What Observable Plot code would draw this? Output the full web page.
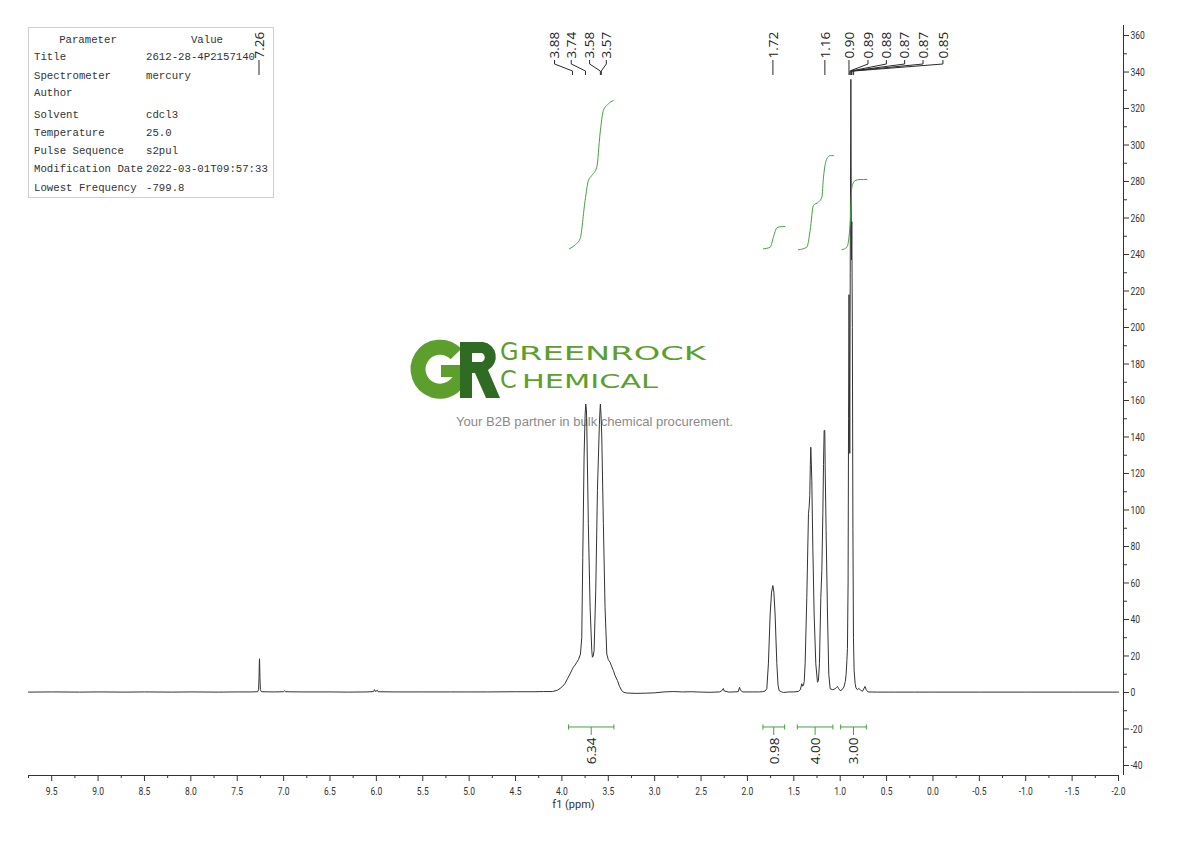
<!DOCTYPE html>
<html>
<head>
<meta charset="utf-8">
<script src="https://cdn.jsdelivr.net/npm/d3@7"></script>
<script src="https://cdn.jsdelivr.net/npm/@observablehq/plot@0.6"></script>
<style>
  html, body { margin: 0; padding: 0; background: #fff; }
  #wrap { position: relative; width: 1190px; height: 841px; overflow: hidden; background: #fff; }
  #bg { position: absolute; left: 0; top: 0; width: 1190px; height: 841px; z-index: 0; }
  #chart { position: absolute; left: 0; top: 0; z-index: 1; }
  #info { position: absolute; left: 28px; top: 27px; width: 244px; height: 169px;
          border: 1px solid #cfcfcf; background: #fff; }
  .cell { position: absolute; height: 14px; line-height: 14px; white-space: nowrap;
          font-family: "Liberation Mono", "DejaVu Sans Mono", monospace; font-size: 10.7px; color: #333; }
</style>
</head>
<body>
<div id="wrap">
  <div id="bg">
    <div id="info"></div>
    <svg id="logo" width="1190" height="841" style="position:absolute;left:0;top:0">
      <path d="M456,354 A22,22 0 1 0 462,371" fill="none" stroke="#5c9f2d" stroke-width="15"/>
      <rect x="441" y="365" width="26" height="12" fill="#5c9f2d"/>
      <path fill-rule="evenodd" fill="#2f6b22"
            d="M460,342 H483 A15,15 0 0 1 488,370 L500,398 H486 L475,373 H472 V398 H460 Z M472,353 H482 A5,5 0 0 1 482,362 H472 Z"/>
      <text x="500" y="360" fill="#5c9f2d" font-family="DejaVu Sans" font-size="24">G</text>
      <text x="519" y="360" fill="#5c9f2d" font-family="DejaVu Sans" font-size="19" textLength="187" lengthAdjust="spacingAndGlyphs">REENROCK</text>
      <text x="500" y="388" fill="#5c9f2d" font-family="DejaVu Sans" font-size="24">C</text>
      <text x="522" y="388" fill="#5c9f2d" font-family="DejaVu Sans" font-size="19.5" textLength="136" lengthAdjust="spacingAndGlyphs">HEMICAL</text>
      <text x="456" y="425.5" fill="#8a8a8a" font-family="Liberation Sans, Arial, sans-serif" font-size="12.6" textLength="277" lengthAdjust="spacingAndGlyphs">Your B2B partner in bulk chemical procurement.</text>
    </svg>
  </div>
  <div id="chart"></div>
</div>
<script>
// ---------------- data ----------------
const specPpm = [
  9.75, 9.5, 9.2, 9.0, 8.7, 8.5, 8.2, 8.0, 7.7, 7.5, 7.35, 7.28, 7.27, 7.265, 7.262, 7.26, 7.258, 7.255, 7.25, 7.24,
  7.1, 7.0, 6.99, 6.98, 6.8, 6.5, 6.3, 6.1, 6.03, 6.02, 6.01, 5.99, 5.98, 5.8, 5.5, 5.2, 5.0, 4.8, 4.5, 4.3, 4.2, 4.1,
  4.05, 4.02, 3.99, 3.966, 3.94, 3.912, 3.89, 3.876, 3.858, 3.84, 3.822, 3.80, 3.786, 3.775, 3.761, 3.75, 3.743, 3.736,
  3.732, 3.715, 3.696, 3.678, 3.671, 3.662, 3.653, 3.635, 3.617, 3.596, 3.588, 3.585, 3.578, 3.570, 3.553, 3.535, 3.516,
  3.50, 3.481, 3.465, 3.445, 3.425, 3.402, 3.38, 3.355, 3.33, 3.3, 3.2, 3.1, 3.0, 2.9, 2.8, 2.7, 2.6, 2.5, 2.4, 2.3,
  2.27, 2.26, 2.25, 2.2, 2.1, 2.085, 2.075, 2.05, 1.95, 1.88, 1.84, 1.81, 1.791, 1.774, 1.755, 1.74, 1.726, 1.715,
  1.702, 1.683, 1.67, 1.658, 1.63, 1.612, 1.55, 1.5, 1.45, 1.43, 1.414, 1.405, 1.396, 1.388, 1.378, 1.36, 1.342, 1.335,
  1.328, 1.322, 1.317, 1.312, 1.306, 1.295, 1.281, 1.263, 1.245, 1.235, 1.224, 1.209, 1.198, 1.187, 1.180, 1.173, 1.166,
  1.162, 1.152, 1.137, 1.123, 1.108, 1.08, 1.055, 1.04, 1.03, 1.015, 1.001, 0.98, 0.96, 0.945, 0.936, 0.928, 0.922,
  0.915, 0.910, 0.905, 0.900, 0.897, 0.892, 0.885, 0.879, 0.875, 0.869, 0.863, 0.857, 0.85, 0.839, 0.83, 0.815, 0.80,
  0.785, 0.76, 0.732, 0.72, 0.70, 0.6, 0.4, 0.2, 0.0, -0.5, -1.0, -1.5, -2.0
];
const specVal = [
  0.2, 0.3, 0.2, 0.3, 0.2, 0.3, 0.2, 0.3, 0.2, 0.3, 0.3, 0.4, 1.5, 8, 16, 18.5, 16, 8, 1.5, 0.4,
  0.3, 0.4, 1.0, 0.4, 0.3, 0.3, 0.2, 0.3, 0.5, 1.6, 0.5, 1.2, 0.4, 0.3, 0.3, 0.3, 0.3, 0.3, 0.4, 0.4, 0.5, 0.5,
  1.2, 2.2, 3.5, 5, 7.5, 10.2, 12.5, 13.9, 15, 16.5, 18, 21, 30, 74, 129, 152, 158, 155,
  147, 92.5, 46.7, 23, 19.3, 20, 23, 56, 110.7, 147, 156, 158, 152, 140, 92.5, 46.7, 21,
  18, 16.6, 14.5, 12, 9, 6.6, 3.5, 1, 0, -0.3, -0.5, -0.4, -0.2, 0.3, 0.5, 0.3, 0.4, 0.2, 0.1, 0.3,
  1.2, 2.2, 0.8, 0.2, 0.4, 2.8, 1.2, 0.3, 0.3, 0.3, 0.4, 0.8, 2, 15.7, 43, 55, 58.6, 55,
  43, 15.7, 4, 1, 0.3, 0, 0.3, 0.3, 0.6, 1.5, 4.8, 3.5, 3.8, 6, 15.7, 52, 98, 101.5,
  108, 125, 134.4, 127, 116, 79.6, 43, 15.7, 5.6, 6.5, 15.7, 52, 66.8, 98, 125, 143.6, 143.6,
  123, 88.8, 43, 10, 2, 1.5, 2, 2.8, 3.3, 2, 1, 1.5, 3, 6, 10, 17.5, 24,
  60, 150, 218, 170, 131, 230, 336, 237, 258, 200, 90, 30, 12, 5, 2.5, 1.5, 2.2,
  1.5, 0.6, 3.3, 1.5, 0.3, 0.2, 0.2, 0.2, 0.2, 0.2, 0.2, 0.2, 0.2
];

const peakLabels = ["7.26", "3.88", "3.74", "3.58", "3.57", "1.72", "1.16", "0.90", "0.89", "0.88", "0.87", "0.87", "0.85"];
const peakShift  = [7.26, 3.88, 3.74, 3.58, 3.57, 1.72, 1.16, 0.90, 0.89, 0.88, 0.87, 0.87, 0.85];

const intFrom   = [3.923, 1.828, 1.457, 0.990];
const intTo     = [3.434, 1.594, 1.073, 0.713];
const intLabels = ["6.34", "0.98", "4.00", "3.00"];

const intCurve1Ppm = [3.920, 3.86, 3.804, 3.750, 3.715, 3.678, 3.624, 3.589, 3.553, 3.50, 3.445];
const intCurve1Val = [243.1, 245.2, 248.6, 269.6, 280.5, 283.3, 287.8, 306.1, 318.9, 322.5, 324.4];
const intCurve2Ppm = [1.828, 1.755, 1.720, 1.683, 1.650, 1.594];
const intCurve2Val = [243.1, 244.0, 249.5, 254.6, 255.2, 255.3];
const intCurve3Ppm = [1.450, 1.360, 1.324, 1.289, 1.235, 1.198, 1.180, 1.144, 1.108, 1.073];
const intCurve3Val = [242.6, 244.0, 253.2, 266.9, 268.7, 271.4, 282.4, 292.5, 294.2, 294.2];
const intCurve4Ppm = [0.982, 0.928, 0.893, 0.874, 0.839, 0.785, 0.713];
const intCurve4Val = [242.6, 244.0, 256.8, 276.9, 280.5, 281.1, 281.1];

const xTicks = [9.5, 9.0, 8.5, 8.0, 7.5, 7.0, 6.5, 6.0, 5.5, 5.0, 4.5, 4.0, 3.5, 3.0, 2.5, 2.0, 1.5, 1.0, 0.5, 0.0, -0.5, -1.0, -1.5, -2.0];
const yTicks = [-40, -20, 0, 20, 40, 60, 80, 100, 120, 140, 160, 180, 200, 220, 240, 260, 280, 300, 320, 340, 360];

const infoHeader = ["Parameter", "Value"];
const infoParams = ["Title", "Spectrometer", "Author", "Solvent", "Temperature", "Pulse Sequence", "Modification Date", "Lowest Frequency"];
const infoValues = ["2612-28-4P2157140", "mercury", "", "cdcl3", "25.0", "s2pul", "2022-03-01T09:57:33", "-799.8"];

// ---------------- layout (not data) ----------------
const labelAt = [7.26, 4.074, 3.894, 3.696, 3.516, 1.72, 1.16, 0.90, 0.695, 0.497, 0.300, 0.102, -0.113];
const infoRowCenters = [57, 75.5, 93.3, 115, 133.3, 151, 169.3, 187.7];

// ---------------- info table ----------------
const info = document.getElementById("info");
function cell(text, left, center, align) {
  const d = document.createElement("div");
  d.className = "cell";
  d.textContent = text;
  d.style.top = (center - 7 - 28) + "px";
  if (align === "center") { d.style.left = (left - 28 - 60) + "px"; d.style.width = "120px"; d.style.textAlign = "center"; }
  else d.style.left = (left - 29) + "px";
  info.appendChild(d);
}
cell(infoHeader[0], 87, 40, "center");
cell(infoHeader[1], 206, 40, "center");
infoParams.forEach((p, i) => { cell(p, 34, infoRowCenters[i]); cell(infoValues[i], 146, infoRowCenters[i]); });

// ---------------- chart ----------------
const spectrum = specPpm.map((p, i) => ({ppm: p, v: specVal[i]}));
const peaks = peakLabels.map((t, i) => ({label: t, ppm: peakShift[i], at: labelAt[i]}));
const ints = intLabels.map((t, i) => ({label: t, from: intFrom[i], to: intTo[i], mid: (intFrom[i] + intTo[i]) / 2}));
const curves = [
  [intCurve1Ppm, intCurve1Val], [intCurve2Ppm, intCurve2Val],
  [intCurve3Ppm, intCurve3Val], [intCurve4Ppm, intCurve4Val]
].map(([p, v]) => p.map((pp, i) => ({ppm: pp, v: v[i]})));

const xMinor = xTicks.map(t => t + 0.25);
const yMinor = yTicks.slice(0, -1).map(t => t + 10);

const axisFont = "Roboto, 'Liberation Sans', sans-serif";
const labelFont = "'Open Sans', 'Noto Sans', sans-serif";
const green = "#45a045";
const ink = "#333";

function leaders(index, scales, values, dims) {
  const g = d3.create("svg:g").attr("fill", "none").attr("stroke", "#2a2a2a").attr("stroke-width", 1);
  const top = dims.marginTop;
  for (const p of peaks) {
    const lx = scales.x(p.at), px = scales.x(p.ppm);
    g.append("path").attr("d", `M${lx},${top + 35}V${top + 39}L${px},${top + 46}V${top + 50}`);
  }
  return g.node();
}

function brackets(index, scales) {
  const g = d3.create("svg:g").attr("fill", "none").attr("stroke", green).attr("stroke-width", 1);
  const yb = scales.y(0) + 35;
  for (const d of ints) {
    const x1 = scales.x(d.from), x2 = scales.x(d.to), xc = scales.x(d.mid);
    g.append("path").attr("d", `M${x1},${yb - 2.5}V${yb + 2.5}M${x1},${yb}H${x2}M${x2},${yb - 2.5}V${yb + 2.5}M${xc},${yb}V${yb + 8}`);
  }
  return g.node();
}

const chart = Plot.plot({
  width: 1190,
  height: 841,
  marginLeft: 28,
  marginRight: 72,
  marginTop: 25,
  marginBottom: 66,
  style: {background: "transparent", overflow: "visible", color: ink},
  x: {domain: [9.75, -2.0], axis: null, label: null},
  y: {domain: [-45.5, 365.5], axis: null, label: null},
  marks: [
    // x axis
    Plot.ruleY([-45.5], {stroke: ink, strokeWidth: 1}),
    Plot.axisX({ticks: xTicks, anchor: "bottom", label: null, tickSize: 6, tickPadding: 5, tickFormat: d => d.toFixed(1),
                fontSize: 11.5, fontFamily: axisFont, stroke: ink, fill: ink}),
    Plot.axisX({ticks: xMinor, anchor: "bottom", label: null, tickSize: 3, tickFormat: () => "", stroke: ink}),
    Plot.text(["f1 (ppm)"], {frameAnchor: "bottom", dy: 29, fontSize: 11, fontFamily: axisFont, fill: ink,
                             lineAnchor: "middle", ariaLabel: "x-axis title"}),
    // y axis (right)
    Plot.ruleX([-2.0], {dx: 5, stroke: ink, strokeWidth: 1}),
    Plot.axisY({ticks: yTicks, anchor: "right", label: null, dx: 5, tickSize: 5, tickPadding: 2, tickFormat: d => String(d),
                fontSize: 11.5, fontFamily: axisFont, stroke: ink, fill: ink}),
    Plot.axisY({ticks: yMinor, anchor: "right", label: null, dx: 5, tickSize: 3, tickFormat: () => "", stroke: ink}),
    // spectrum
    Plot.line(spectrum, {x: "ppm", y: "v", stroke: "#333", strokeWidth: 1}),
    // integral curves
    ...curves.map(c => Plot.line(c, {x: "ppm", y: "v", stroke: green, strokeWidth: 1, curve: "monotone-x"})),
    // integral brackets and values
    brackets,
    Plot.text(ints, {x: "mid", y: () => 0, dy: 45, text: "label", rotate: -90, textAnchor: "end",
                     lineAnchor: "middle", fontSize: 13.5, fontFamily: labelFont, fill: "#222"}),
    // peak labels
    leaders,
    Plot.text(peaks, {x: "at", text: "label", frameAnchor: "top", dy: 33, rotate: -90, textAnchor: "start",
                      lineAnchor: "middle", fontSize: 13.5, fontFamily: labelFont, fill: "#222"})
  ]
});
document.getElementById("chart").appendChild(chart);

// condense the axis tick numerals (narrow display face in the original)
function condense(el, s) {
  const t = el.getAttribute("transform");
  if (t && t.includes("translate")) {
    el.setAttribute("transform", t + ` scale(${s},1)`);
  } else {
    const x = parseFloat(el.getAttribute("x")), y = parseFloat(el.getAttribute("y"));
    if (isFinite(x) && isFinite(y)) {
      el.setAttribute("x", 0); el.setAttribute("y", 0);
      el.setAttribute("transform", `translate(${x},${y}) scale(${s},1)`);
    }
  }
}
chart.querySelectorAll('g[aria-label$="tick label"] text, g[aria-label="x-axis title"] text').forEach(el => condense(el, 0.74));
</script>
</body>
</html>
